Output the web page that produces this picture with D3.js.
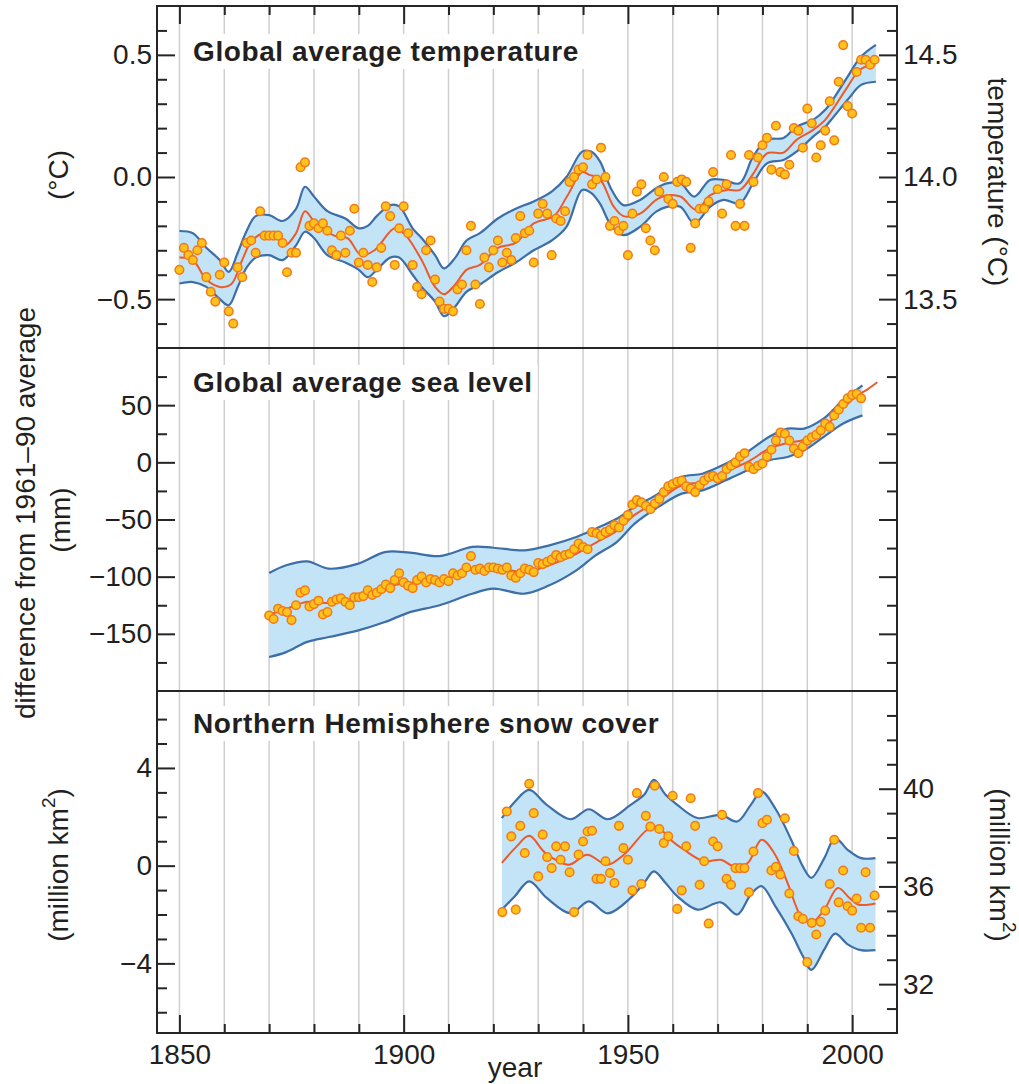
<!DOCTYPE html>
<html><head><meta charset="utf-8">
<script src="https://cdn.jsdelivr.net/npm/d3@7"></script>
<style>
body{margin:0;background:#fff}
svg{display:block}
text{font-family:"Liberation Sans",Arial,Helvetica,sans-serif;fill:#231f20}
</style>
</head><body>
<svg id="chart" width="1019" height="1084"></svg>
<script>
// ---------------- DATA ----------------
const xGridYears = [1850,1860,1870,1880,1890,1900,1910,1920,1930,1940,1950,1960,1970,1980,1990,2000];
const xMajorYears = [1850,1900,1950,2000];
const xTickLabels = ["1850","1900","1950","2000"];

// Panel 1: global average temperature (°C anomaly vs 1961-90)
const tempYears = d3.range(1850, 2006);
const tempAnomaly = [
 -0.38,-0.29,-0.32,-0.34,-0.30,-0.27,-0.41,-0.47,-0.51,-0.40,
 -0.35,-0.55,-0.60,-0.37,-0.41,-0.27,-0.26,-0.31,-0.14,-0.24,
 -0.24,-0.24,-0.24,-0.27,-0.39,-0.31,-0.31,0.04,0.06,-0.20,
 -0.19,-0.21,-0.19,-0.22,-0.30,-0.32,-0.24,-0.31,-0.22,-0.13,
 -0.35,-0.31,-0.36,-0.43,-0.37,-0.29,-0.12,-0.16,-0.36,-0.21,
 -0.12,-0.23,-0.36,-0.45,-0.48,-0.30,-0.26,-0.42,-0.51,-0.54,
 -0.54,-0.55,-0.46,-0.44,-0.30,-0.20,-0.44,-0.52,-0.33,-0.37,
 -0.30,-0.26,-0.35,-0.31,-0.34,-0.25,-0.16,-0.23,-0.22,-0.35,
 -0.15,-0.11,-0.15,-0.32,-0.17,-0.18,-0.14,-0.02,0.00,0.03,
 0.04,0.09,-0.03,-0.01,0.12,0.00,-0.20,-0.18,-0.22,-0.20,
 -0.32,-0.15,-0.06,-0.03,-0.21,-0.26,-0.30,-0.06,0.00,-0.09,
 -0.11,-0.02,-0.01,-0.02,-0.29,-0.19,-0.13,-0.13,-0.10,0.02,
 -0.05,-0.15,-0.03,0.09,-0.20,-0.11,-0.20,0.09,-0.02,0.08,
 0.13,0.16,0.03,0.21,0.02,0.01,0.05,0.20,0.19,0.12,
 0.28,0.22,0.08,0.13,0.19,0.31,0.15,0.39,0.54,0.29,
 0.26,0.43,0.48,0.48,0.46,0.48];
const tempSmoothYears = [1850,1853,1856,1859,1861.5,1864,1866,1868.5,1871,1873.5,1876,1878,1880,1884.5,1887.5,1890.5,1893.5,1898,1900.5,1904,1907,1909,1911.5,1914,1917,1921,1925,1929,1933.5,1936.4,1939.8,1941.3,1943.8,1946.8,1949,1952.7,1956.3,1958.7,1961.7,1965.3,1968.3,1972.1,1975,1978,1981,1984.7,1987.6,1991.3,1994,1995.8,1998.8,2001.8,2005.3];
const tempSmooth = [-0.33,-0.34,-0.42,-0.45,-0.44,-0.34,-0.265,-0.23,-0.23,-0.28,-0.23,-0.14,-0.18,-0.24,-0.25,-0.32,-0.30,-0.21,-0.24,-0.34,-0.45,-0.48,-0.44,-0.38,-0.36,-0.29,-0.27,-0.19,-0.16,-0.08,0.02,0.01,-0.01,-0.12,-0.16,-0.15,-0.094,-0.075,-0.08,-0.135,-0.075,-0.053,-0.053,0.015,0.097,0.10,0.152,0.193,0.234,0.28,0.364,0.44,0.466];
const tempBandYears = [1850,1853,1856,1859,1861,1863,1865,1867,1870,1873,1876,1878,1880,1883,1887,1890,1892,1894,1897,1899,1902,1904,1907,1909,1911.5,1914,1917,1921,1925,1929,1933,1936.3,1939.8,1941.8,1943.8,1946.3,1949,1952.7,1956.3,1958.7,1961.7,1964.8,1968.3,1971.3,1974.9,1977.9,1981,1984.7,1987.6,1991.3,1994,1995.9,1999,2002,2005.3];
const tempLower = [-0.436,-0.43,-0.45,-0.50,-0.525,-0.45,-0.37,-0.33,-0.32,-0.34,-0.28,-0.224,-0.25,-0.32,-0.35,-0.38,-0.41,-0.38,-0.33,-0.33,-0.40,-0.45,-0.51,-0.57,-0.53,-0.47,-0.44,-0.39,-0.35,-0.30,-0.26,-0.204,-0.053,-0.065,-0.11,-0.20,-0.238,-0.204,-0.142,-0.122,-0.122,-0.19,-0.122,-0.094,-0.108,-0.026,0.056,0.07,0.104,0.165,0.206,0.247,0.316,0.377,0.39];
const tempUpper = [-0.221,-0.23,-0.29,-0.34,-0.388,-0.31,-0.22,-0.16,-0.156,-0.18,-0.13,-0.04,-0.08,-0.14,-0.17,-0.21,-0.20,-0.16,-0.115,-0.12,-0.21,-0.25,-0.32,-0.374,-0.33,-0.26,-0.23,-0.17,-0.13,-0.10,-0.06,0.0,0.104,0.104,0.063,-0.05,-0.115,-0.094,-0.046,-0.026,-0.026,-0.08,-0.012,-0.012,-0.026,0.083,0.152,0.16,0.206,0.234,0.275,0.322,0.411,0.493,0.541];

// Panel 2: global average sea level (mm)
const seaYears = d3.range(1870, 2003);
const seaLevel = [
 -134,-137,-128,-130,-131,-138,-125,-114,-112,-126,
 -124,-121,-133,-131,-122,-120,-119,-122,-125,-118,
 -118,-117,-112,-116,-114,-111,-107,-110,-103,-97,
 -105,-108,-110,-103,-100,-105,-102,-103,-105,-102,
 -104,-97,-99,-97,-92,-82,-94,-93,-95,-92,
 -92,-93,-94,-92,-99,-101,-97,-93,-94,-96,
 -88,-89,-87,-85,-81,-83,-81,-80,-76,-71,
 -74,-76,-61,-62,-64,-61,-59,-55,-57,-51,
 -46,-37,-33,-35,-38,-41,-36,-32,-26,-21,
 -19,-17,-16,-21,-23,-26,-20,-16,-13,-12,
 -14,-12,-6,-3,0,5,8,-4,-6,-3,
 -1,5,11,19,26,25,19,12,8,14,
 19,22,24,28,34,31,41,46,51,56,
 59,60,56];
const seaSmoothYears = [1870,1874,1878.5,1883,1890,1896,1902,1908,1915,1920,1927,1932.5,1938.5,1943,1947.5,1951.5,1957,1962,1967,1972,1977,1981.5,1985.5,1989.5,1993.5,1997.9,2001,2003.5,2005.6];
const seaSmooth = [-133,-128,-122,-123,-118,-109,-105,-103,-94,-92,-96,-90,-80,-70,-60,-46,-33,-20,-17,-8,1,12,17,20,30,47,58,64,70];
const seaBandYears = [1870,1873.8,1878.5,1883.3,1889.9,1895.8,1901.4,1908,1915.3,1920,1927,1932.5,1938.5,1942.8,1947.5,1951.5,1956.8,1962,1966.6,1971.8,1976.6,1981.4,1985.6,1989.3,1993.6,1997.9,2002.3];
const seaLower = [-170.3,-166,-157,-152.8,-147,-139.7,-131,-125,-114.9,-110.5,-114.9,-107.6,-94.5,-81.4,-69.7,-53.6,-39,-27.4,-24.5,-15.7,-7,1.7,4.7,10.5,22.1,33.8,41.1];
const seaUpper = [-96.8,-90,-86.6,-93,-88.6,-78.5,-79,-82,-74,-74.7,-77,-72.6,-65.3,-58,-49.3,-39,-27.4,-12.8,-10,-1.2,9,22.1,29.5,29.5,38.2,54.2,67.4];

// Panel 3: Northern Hemisphere snow cover (million km2 anomaly)
const snowYears = d3.range(1922, 2006);
const snowCover = [
 -1.9,2.22,1.2,-1.8,1.63,0.52,3.35,2.15,
 -0.44,1.27,0.35,-0.1,0.79,0.24,0.79,-0.27,-1.9,0.45,
 0.99,1.4,1.43,-0.54,-0.54,0.18,-0.3,-0.71,1.63,0.72,
 0.24,-1.01,2.97,-0.75,2.04,1.6,3.27,1.5,0.93,1.2,
 2.86,-1.77,-1.01,0.79,2.76,1.63,-0.78,0.18,-2.37,0.99,
 0.79,2.08,-0.54,-0.78,-0.1,-0.1,-0.1,-1.09,0.58,2.97,
 1.74,1.88,-0.2,-0.05,-0.36,1.94,-1.14,0.6,-2.07,-2.18,
 -3.95,-2.34,-2.82,-2.3,-1.84,-0.75,1.06,-1.5,-0.2,-1.66,
 -1.84,-1.35,-2.54,-0.27,-2.54,-1.22];
const snowSmoothYears = [1921.9,1925.2,1928,1931.6,1936.8,1940.9,1945.4,1949.1,1954.3,1956.5,1959.5,1962.5,1967,1970.7,1973.7,1976.7,1979.8,1982.6,1985.6,1988.6,1990.8,1993.8,1996.8,1999.4,2001.3,2005.2];
const snowSmooth = [0.11,0.79,1.22,0.52,0.04,0.45,0.04,0.45,1.47,1.6,1.06,0.65,0.18,0.24,-0.03,0.11,1.06,0.52,-0.71,-2.07,-2.34,-1.8,-0.91,-1.32,-1.59,-1.55];
const snowBandYears = [1921.9,1924.8,1928,1931.9,1937.2,1941.3,1945.5,1950.6,1953.6,1955.8,1958.4,1961,1965.5,1970.7,1974.4,1977.4,1979.8,1983,1986.4,1989,1990.9,1993.8,1996.2,1999,2002,2005.2];
const snowLower = [-1.8,-1.25,-0.64,-1.32,-1.95,-1.46,-1.95,-1.32,-0.71,-0.23,-0.71,-1.25,-1.8,-1.5,-2.0,-1.18,-0.84,-1.7,-2.75,-3.7,-4.27,-3.43,-2.78,-3.22,-3.46,-3.46];
const snowUpper = [1.95,2.62,3.1,2.49,1.9,2.31,1.9,2.49,2.9,3.51,2.9,2.49,1.95,2.08,1.81,2.49,3.03,2.3,1.06,-0.03,-0.5,0.31,1.13,0.65,0.31,0.31];

const panelTitles = ["Global average temperature","Global average sea level","Northern Hemisphere snow cover"];

// ---------------- LAYOUT ----------------
const L = 157, R = 897;
const PT = [6, 348, 691, 1033];
const ink = "#262425";
const C = {grid:"#cfcfcf", band:"#c3e4f6", bandLine:"#3d6ea8", smooth:"#ea5a2b", dotFill:"#ffc21a", dotStroke:"#f07a1a"};

const svg = d3.select("#chart");
const x = d3.scaleLinear().domain([1845, 2010]).range([L, R]);
const yT = d3.scaleLinear().domain([-0.7, 0.7]).range([PT[1], PT[0]]);
const yTr = d3.scaleLinear().domain([13.3, 14.7]).range([PT[1], PT[0]]);
const yS = d3.scaleLinear().domain([-200, 100]).range([PT[2], PT[1]]);
const yN = d3.scaleLinear().domain([-6.85, 7.15]).range([PT[3], PT[2]]);
const yNr = d3.scaleLinear().domain([30, 44]).range([PT[3], PT[2]]);

// gridlines
svg.append("g").selectAll("line").data(xGridYears).join("line")
  .attr("x1", d => x(d)).attr("x2", d => x(d))
  .attr("y1", PT[0]).attr("y2", PT[3])
  .attr("stroke", C.grid).attr("stroke-width", 1.5);

const curve = d3.curveCatmullRom.alpha(0.5);

function drawPanel(y, bandYears, lower, upper, smoothYears, smooth, years, vals) {
  const band = bandYears.map((yr, i) => ({yr, lo: lower[i], hi: upper[i]}));
  const g = svg.append("g");
  g.append("path").datum(band)
    .attr("d", d3.area().x(d => x(d.yr)).y0(d => y(d.lo)).y1(d => y(d.hi)).curve(curve))
    .attr("fill", C.band);
  ["lo", "hi"].forEach(k => {
    g.append("path").datum(band)
      .attr("d", d3.line().x(d => x(d.yr)).y(d => y(d[k])).curve(curve))
      .attr("fill", "none").attr("stroke", C.bandLine).attr("stroke-width", 2.2);
  });
  const sm = smoothYears.map((yr, i) => ({yr, v: smooth[i]}));
  g.append("path").datum(sm)
    .attr("d", d3.line().x(d => x(d.yr)).y(d => y(d.v)).curve(curve))
    .attr("fill", "none").attr("stroke", C.smooth).attr("stroke-width", 2);
  const pts = years.map((yr, i) => ({yr, v: vals[i]}));
  g.selectAll("circle").data(pts).join("circle")
    .attr("cx", d => x(d.yr)).attr("cy", d => y(d.v)).attr("r", 4.3)
    .attr("fill", C.dotFill).attr("stroke", C.dotStroke).attr("stroke-width", 1.5);
}
drawPanel(yT, tempBandYears, tempLower, tempUpper, tempSmoothYears, tempSmooth, tempYears, tempAnomaly);
drawPanel(yS, seaBandYears, seaLower, seaUpper, seaSmoothYears, seaSmooth, seaYears, seaLevel);
drawPanel(yN, snowBandYears, snowLower, snowUpper, snowSmoothYears, snowSmooth, snowYears, snowCover);

// titles with white background
const titleBase = [61, 392, 733];
panelTitles.forEach((t, i) => {
  const g = svg.append("g");
  const txt = g.append("text").attr("x", 193).attr("y", titleBase[i])
    .attr("font-size", 28).attr("font-weight", "bold").attr("letter-spacing", 0.6).text(t);
  const b = txt.node().getBBox();
  g.insert("rect", "text").attr("x", b.x - 5).attr("y", b.y - 2).attr("width", b.width + 10).attr("height", b.height + 4).attr("fill", "#fff");
});

// axes
function styleAxis(g) {
  g.select(".domain").remove();
  g.selectAll("line").attr("stroke", ink).attr("stroke-width", 2);
  g.selectAll("text").attr("font-size", 28).attr("font-family", '"Liberation Sans",Arial,sans-serif').attr("fill", ink);
}
function r1(v){ return Math.round(v * 1000) / 1000; }
function vAxis(scale, side, majors, minors, fmt) {
  const X0 = side === "left" ? L : R;
  const mk = side === "left" ? d3.axisLeft : d3.axisRight;
  svg.append("g").attr("transform", `translate(${X0},0)`)
    .call(mk(scale).tickValues(minors).tickSize(-10).tickFormat(""))
    .call(styleAxis);
  svg.append("g").attr("transform", `translate(${X0},0)`)
    .call(mk(scale).tickValues(majors).tickSize(-18).tickPadding(side === "left" ? 5 : 6).tickFormat(fmt))
    .call(styleAxis);
}
const f1 = d3.format(".1f"), fd = d3.format("d");
const none = () => "";
// panel 1
const tMaj = [-0.5, 0, 0.5];
const tMin = d3.range(-6, 7).map(d => r1(d / 10)).filter(d => !tMaj.includes(d));
vAxis(yT, "left", tMaj, tMin, f1);
const trMaj = [13.5, 14.0, 14.5];
const trMin = d3.range(134, 147).map(d => r1(d / 10)).filter(d => !trMaj.includes(d));
vAxis(yTr, "right", trMaj, trMin, f1);
// panel 2
const sMaj = [-150, -100, -50, 0, 50];
const sMin = [-175, -125, -75, -25, 25, 75];
vAxis(yS, "left", sMaj, sMin, fd);
vAxis(yS, "right", sMaj, sMin, none);
// panel 3
const nMaj = [-4, 0, 4];
const nMin = d3.range(-6, 7).filter(d => !nMaj.includes(d));
vAxis(yN, "left", nMaj, nMin, fd);
const nrMaj = [32, 36, 40];
const nrMin = d3.range(31, 44).filter(d => !nrMaj.includes(d));
vAxis(yNr, "right", nrMaj, nrMin, fd);

// x axes (top of panel 1 and bottom of panel 3)
const xMinor = xGridYears.filter(d => !xMajorYears.includes(d));
svg.append("g").attr("transform", `translate(0,${PT[0]})`)
  .call(d3.axisTop(x).tickValues(xMinor).tickSize(-9).tickFormat("")).call(styleAxis);
svg.append("g").attr("transform", `translate(0,${PT[0]})`)
  .call(d3.axisTop(x).tickValues(xMajorYears).tickSize(-18).tickFormat("")).call(styleAxis);
svg.append("g").attr("transform", `translate(0,${PT[3]})`)
  .call(d3.axisBottom(x).tickValues(xMinor).tickSize(-9).tickFormat("")).call(styleAxis);
svg.append("g").attr("transform", `translate(0,${PT[3]})`)
  .call(d3.axisBottom(x).tickValues(xMajorYears).tickSize(-18).tickPadding(11)
    .tickFormat((d, i) => xTickLabels[i])).call(styleAxis);

// frame and dividers
svg.append("rect").attr("x", L).attr("y", PT[0]).attr("width", R - L).attr("height", PT[3] - PT[0])
  .attr("fill", "none").attr("stroke", ink).attr("stroke-width", 2);
[PT[1], PT[2]].forEach(yy => svg.append("line").attr("x1", L).attr("x2", R).attr("y1", yy).attr("y2", yy)
  .attr("stroke", ink).attr("stroke-width", 2));

// axis titles
function vLabel(cx, cy, rot, parts) {
  const t = svg.append("text").attr("transform", `translate(${cx},${cy}) rotate(${rot})`)
    .attr("text-anchor", "middle").attr("dominant-baseline", "central").attr("font-size", 28);
  parts.forEach(p => {
    const s = t.append("tspan").text(p.t);
    if (p.sup) s.attr("font-size", 19).attr("dy", -10);
    if (p.down) s.attr("dy", 10);
  });
}
vLabel(25, 513, -90, [{t: "difference from 1961\u201390 average"}]);
vLabel(58, 175, -90, [{t: "(\u00b0C)"}]);
vLabel(60, 520, -90, [{t: "(mm)"}]);
vLabel(58, 865, -90, [{t: "(million km"}, {t: "2", sup: true}, {t: ")", down: true}]);
vLabel(998, 182, 90, [{t: "temperature (\u00b0C)"}]);
vLabel(1000, 865, 90, [{t: "(million km"}, {t: "2", sup: true}, {t: ")", down: true}]);
svg.append("text").attr("x", 515).attr("y", 1077).attr("text-anchor", "middle").attr("font-size", 28).text("year");
</script>
</body></html>
